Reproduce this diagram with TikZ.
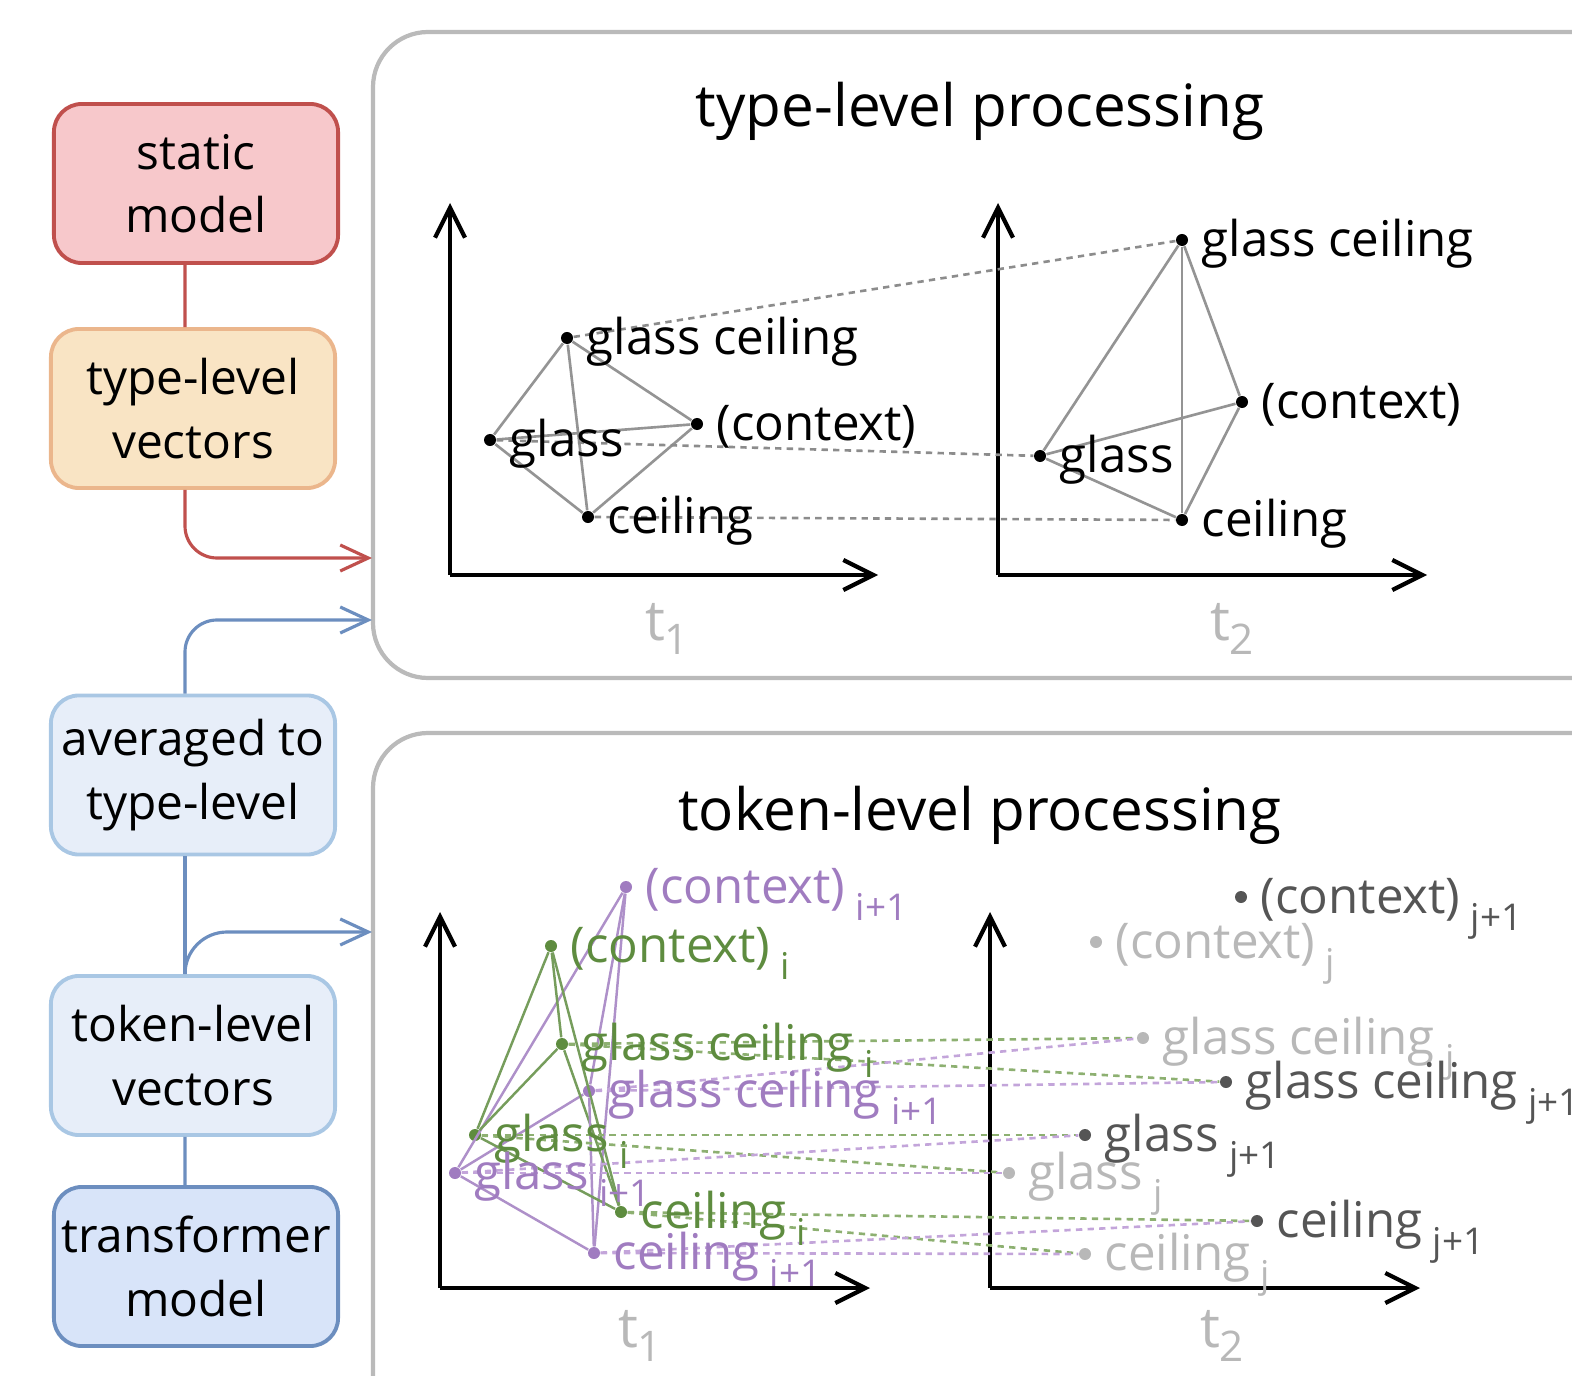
\documentclass[tikz,border=0pt]{standalone}
\usepackage{fontspec}
\setmainfont{Open Sans}
\usetikzlibrary{arrows.meta}
\usetikzlibrary{positioning}

\definecolor{redc}{HTML}{C0504D}
\definecolor{pinkfill}{HTML}{F7C8CB}
\definecolor{orangec}{HTML}{EBB68C}
\definecolor{orangefill}{HTML}{F9E4C4}
\definecolor{bluec}{HTML}{6C8EBF}
\definecolor{lbluec}{HTML}{A9C7E4}
\definecolor{lbluefill}{HTML}{E7EEF9}
\definecolor{bluefill}{HTML}{D8E4F9}
\definecolor{greenc}{HTML}{5E8C3F}
\definecolor{purplec}{HTML}{A07CC0}
\definecolor{greend}{HTML}{8DB071}
\definecolor{purpled}{HTML}{C3A5DA}
\definecolor{darkg}{HTML}{555555}
\definecolor{lightg}{HTML}{B8B8B8}

\newcommand{\wsub}[1]{\hspace{3pt}\raisebox{-5pt}{\fontsize{10.5}{12}\selectfont #1}}
\newcommand{\tsub}[1]{\raisebox{-4pt}{\fontsize{12}{13}\selectfont #1}}

\tikzset{
  box/.style={rounded corners=0.28cm, line width=1.1pt, minimum width=2.84cm, minimum height=1.59cm, align=center, inner sep=0pt, font=\fontsize{13.6}{18}\selectfont},
  panel/.style={draw=black!27, line width=1.2pt, rounded corners=0.55cm},
  axis/.style={line width=1.2pt, -{Straight Barb[length=0.3cm,width=0.3cm]}},
  dot/.style={circle, fill, inner sep=0pt, minimum size=0.12cm},
  lbl/.style={anchor=base west, inner sep=0pt, xshift=0.19cm, yshift=-0.16cm, font=\fontsize{14}{16}\selectfont},
  tlbl/.style={anchor=base, inner sep=0pt, text=lightg, font=\fontsize{16}{17}\selectfont},
  ttl/.style={anchor=base, inner sep=0pt, font=\fontsize{16.6}{20}\selectfont},
  uedge/.style={draw=black!42, line width=0.75pt},
  udash/.style={draw=black!45, line width=0.75pt, dash pattern=on 1.8pt off 1.5pt},
  gedge/.style={draw=greenc!85, line width=0.7pt},
  pedge/.style={draw=purplec!85, line width=0.7pt},
  gdash/.style={draw=greend, line width=0.75pt, dash pattern=on 1.8pt off 1.5pt},
  pdash/.style={draw=purpled, line width=0.75pt, dash pattern=on 1.8pt off 1.5pt},
  conn/.style={line width=0.9pt},
  connarr/.style={line width=0.9pt, -{Straight Barb[length=0.28cm,width=0.26cm]}}
}

\begin{document}
\begin{tikzpicture}[x=0.01cm,y=-0.01cm]
\useasboundingbox (0,0) rectangle (1572,1376);
\clip (0,0) rectangle (1572,1376);

\draw[panel] (373,32) rectangle (1650,678);
\draw[panel] (373,733) rectangle (1650,1440);

\node[box, fill=pinkfill, draw=redc] (sm) at (196,183.5) {static\\model};
\node[box, fill=orangefill, draw=orangec] (tlv) at (193,408.5) {type-level\\vectors};
\node[box, fill=lbluefill, draw=lbluec] (avg) at (193,775) {averaged to\\type-level};
\node[box, fill=lbluefill, draw=lbluec] (tok) at (193,1055.5) {token-level\\vectors};
\node[box, fill=bluefill, draw=bluec] (trm) at (196,1266.5) {transformer\\model};

\coordinate (in-type) at (372,558);
\coordinate (in-avg) at (372,620);
\coordinate (in-tok) at (372,932);

\draw[conn, redc] ([xshift=-0.11cm]sm.south) -- ([xshift=-0.08cm]tlv.north);
\draw[connarr, redc, rounded corners=0.32cm] ([xshift=-0.08cm]tlv.south) |- (in-type);
\draw[connarr, bluec, rounded corners=0.32cm] ([xshift=-0.08cm]avg.north) |- (in-avg);
\draw[conn, bluec] ([xshift=-0.08cm]avg.south) -- ([xshift=-0.08cm]tok.north);
\draw[connarr, bluec, rounded corners=0.42cm] ([xshift=-0.08cm]tok.north) |- (in-tok);
\draw[conn, bluec] ([xshift=-0.08cm]tok.south) -- ([xshift=-0.11cm]trm.north);

\node[ttl] (ttype) at (980,127) {type-level processing};
\node[ttl] (ttok) at (980,830) {token-level processing};

\draw[axis] (450,575) -- (450,203);
\draw[axis] (450,575) -- (878,575);
\draw[axis] (998,575) -- (998,203);
\draw[axis] (998,575) -- (1427,575);
\node[tlbl] (ut1) at (667,640) {t\tsub{1}};
\node[tlbl] (ut2) at (1232,640) {t\tsub{2}};

\node[dot] (ugcl-1) at (567,338) {};
\node[dot] (ugls-1) at (490,440) {};
\node[dot] (uctx-1) at (697,424) {};
\node[dot] (ucei-1) at (588,517) {};
\node[dot] (ugcl-2) at (1182,240) {};
\node[dot] (ugls-2) at (1040,456) {};
\node[dot] (uctx-2) at (1242,402) {};
\node[dot] (ucei-2) at (1182,520) {};

\foreach \a/\b in {ugcl/ugls,ugcl/uctx,ugcl/ucei,ugls/uctx,ugls/ucei,ucei/uctx} {
  \draw[uedge] (\a-1) -- (\b-1);
  \draw[uedge] (\a-2) -- (\b-2);
}
\foreach \w in {ugcl,ugls,ucei}
  \draw[udash] (\w-1) -- (\w-2);

\node[lbl] (ugcl-1-l) at (ugcl-1) {glass ceiling};
\node[lbl] (ugls-1-l) at (ugls-1) {glass};
\node[lbl] (uctx-1-l) at (uctx-1) {(context)};
\node[lbl] (ucei-1-l) at (ucei-1) {ceiling};
\node[lbl] (ugcl-2-l) at (ugcl-2) {glass ceiling};
\node[lbl] (ugls-2-l) at (ugls-2) {glass};
\node[lbl] (uctx-2-l) at (uctx-2) {(context)};
\node[lbl] (ucei-2-l) at (ucei-2) {ceiling};

\draw[axis] (440,1288) -- (440,912);
\draw[axis] (440,1288) -- (870,1288);
\draw[axis] (990,1288) -- (990,912);
\draw[axis] (990,1288) -- (1420,1288);
\node[tlbl] (lt1) at (640,1347) {t\tsub{1}};
\node[tlbl] (lt2) at (1222,1347) {t\tsub{2}};

\node[dot, greenc] (ctx-i) at (551,946) {};
\node[dot, purplec] (ctx-i1) at (626,887) {};
\node[dot, greenc] (gcl-i) at (562,1044) {};
\node[dot, purplec] (gcl-i1) at (589,1091) {};
\node[dot, greenc] (gls-i) at (475,1135) {};
\node[dot, purplec] (gls-i1) at (455,1173) {};
\node[dot, greenc] (cei-i) at (621,1212) {};
\node[dot, purplec] (cei-i1) at (594,1253) {};

\node[dot, lightg] (ctx-j) at (1096,942) {};
\node[dot, darkg] (ctx-j1) at (1241,897) {};
\node[dot, lightg] (gcl-j) at (1143,1038) {};
\node[dot, darkg] (gcl-j1) at (1226,1082) {};
\node[dot, darkg] (gls-j1) at (1085,1135) {};
\node[dot, lightg] (gls-j) at (1009,1173) {};
\node[dot, darkg] (cei-j1) at (1257,1221) {};
\node[dot, lightg] (cei-j) at (1085,1254) {};

\foreach \a/\b in {ctx/gls,ctx/gcl,ctx/cei,gcl/gls,gcl/cei,gls/cei} {
  \draw[gedge] (\a-i) -- (\b-i);
  \draw[pedge] (\a-i1) -- (\b-i1);
}
\foreach \w in {gcl,gls,cei} {
  \draw[gdash] (\w-i) -- (\w-j);
  \draw[gdash] (\w-i) -- (\w-j1);
  \draw[pdash] (\w-i1) -- (\w-j);
  \draw[pdash] (\w-i1) -- (\w-j1);
}

\node[lbl, text=greenc] (ctx-i-l) at (ctx-i) {(context)\wsub{i}};
\node[lbl, text=purplec] (ctx-i1-l) at (ctx-i1) {(context)\wsub{i+1}};
\node[lbl, text=greenc] (gcl-i-l) at (gcl-i) {glass ceiling\wsub{i}};
\node[lbl, text=purplec] (gcl-i1-l) at (gcl-i1) {glass ceiling\wsub{i+1}};
\node[lbl, text=greenc] (gls-i-l) at (gls-i) {glass\wsub{i}};
\node[lbl, text=purplec] (gls-i1-l) at (gls-i1) {glass\wsub{i+1}};
\node[lbl, text=greenc] (cei-i-l) at (cei-i) {ceiling\wsub{i}};
\node[lbl, text=purplec] (cei-i1-l) at (cei-i1) {ceiling\wsub{i+1}};

\node[lbl, text=lightg] (ctx-j-l) at (ctx-j) {(context)\wsub{j}};
\node[lbl, text=darkg] (ctx-j1-l) at (ctx-j1) {(context)\wsub{j+1}};
\node[lbl, text=lightg] (gcl-j-l) at (gcl-j) {glass ceiling\wsub{j}};
\node[lbl, text=darkg] (gcl-j1-l) at (gcl-j1) {glass ceiling\wsub{j+1}};
\node[lbl, text=darkg] (gls-j1-l) at (gls-j1) {glass\wsub{j+1}};
\node[lbl, text=lightg] (gls-j-l) at (gls-j) {glass\wsub{j}};
\node[lbl, text=darkg] (cei-j1-l) at (cei-j1) {ceiling\wsub{j+1}};
\node[lbl, text=lightg] (cei-j-l) at (cei-j) {ceiling\wsub{j}};

\end{tikzpicture}
\end{document}
